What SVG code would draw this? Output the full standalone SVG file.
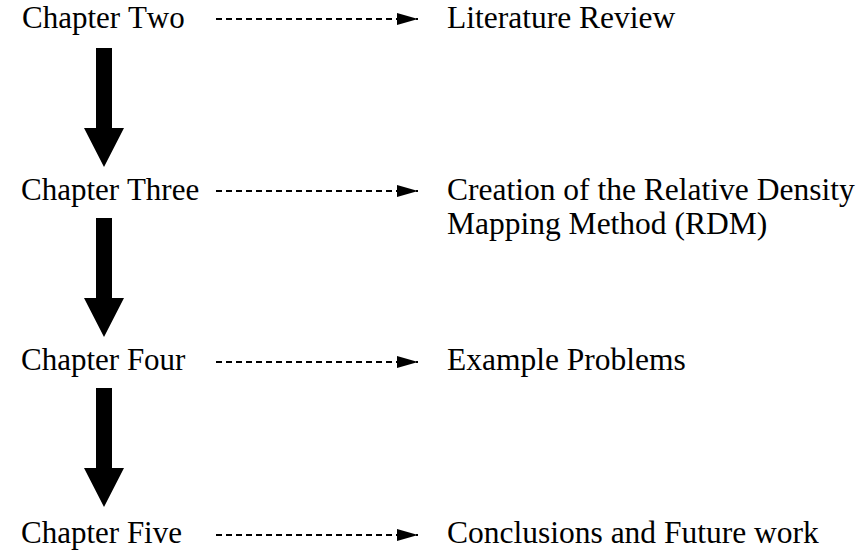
<svg xmlns="http://www.w3.org/2000/svg" width="863" height="550" viewBox="0 0 863 550">
  <style>
    .lbl { font-family: 'Liberation Serif', 'Times New Roman', Times, serif; font-size: 31px; font-kerning: none; fill: #000; }
    .rt { font-size: 31.5px; }
    .dash { stroke: #000; stroke-width: 2; stroke-dasharray: 6 4; fill: none; }
    .big { fill: #000; }
  </style>
  <defs>
    <marker id="head" viewBox="0 0 21 12" refX="21" refY="6" markerWidth="21" markerHeight="12" markerUnits="userSpaceOnUse" orient="auto">
      <path d="M0,0 L21,6 L0,12 Z" fill="#000"/>
    </marker>
    <!-- thick downward arrow: 16px shaft, 40px head -->
    <path id="bigArrow" d="M96,0 H112 V80 H124 L104,119 L84,80 H96 Z"/>
  </defs>

  <g class="lbl">
    <g id="ch2"><text x="22" y="28">Chapter Two</text></g>
    <g id="ch3"><text x="21" y="200">Chapter Three</text></g>
    <g id="ch4"><text x="21" y="370">Chapter Four</text></g>
    <g id="ch5"><text x="21" y="543">Chapter Five</text></g>

    <g id="lit" class="rt"><text x="447" y="28">Literature Review</text></g>
    <g id="rdm" class="rt"><text x="447" y="200">Creation of the Relative Density</text><text x="447" y="234">Mapping Method (RDM)</text></g>
    <g id="ex" class="rt"><text x="447" y="370">Example Problems</text></g>
    <g id="concl" class="rt"><text x="447" y="543">Conclusions and Future work</text></g>
  </g>

  <g id="connectors">
    <use href="#bigArrow" class="big" y="48"/>
    <use href="#bigArrow" class="big" y="218"/>
    <use href="#bigArrow" class="big" y="388"/>
    <line class="dash" x1="216" y1="19" x2="418" y2="19" marker-end="url(#head)"/>
    <line class="dash" x1="216" y1="191" x2="418" y2="191" marker-end="url(#head)"/>
    <line class="dash" x1="216" y1="362" x2="418" y2="362" marker-end="url(#head)"/>
    <line class="dash" x1="216" y1="535" x2="418" y2="535" marker-end="url(#head)"/>
  </g>
</svg>
